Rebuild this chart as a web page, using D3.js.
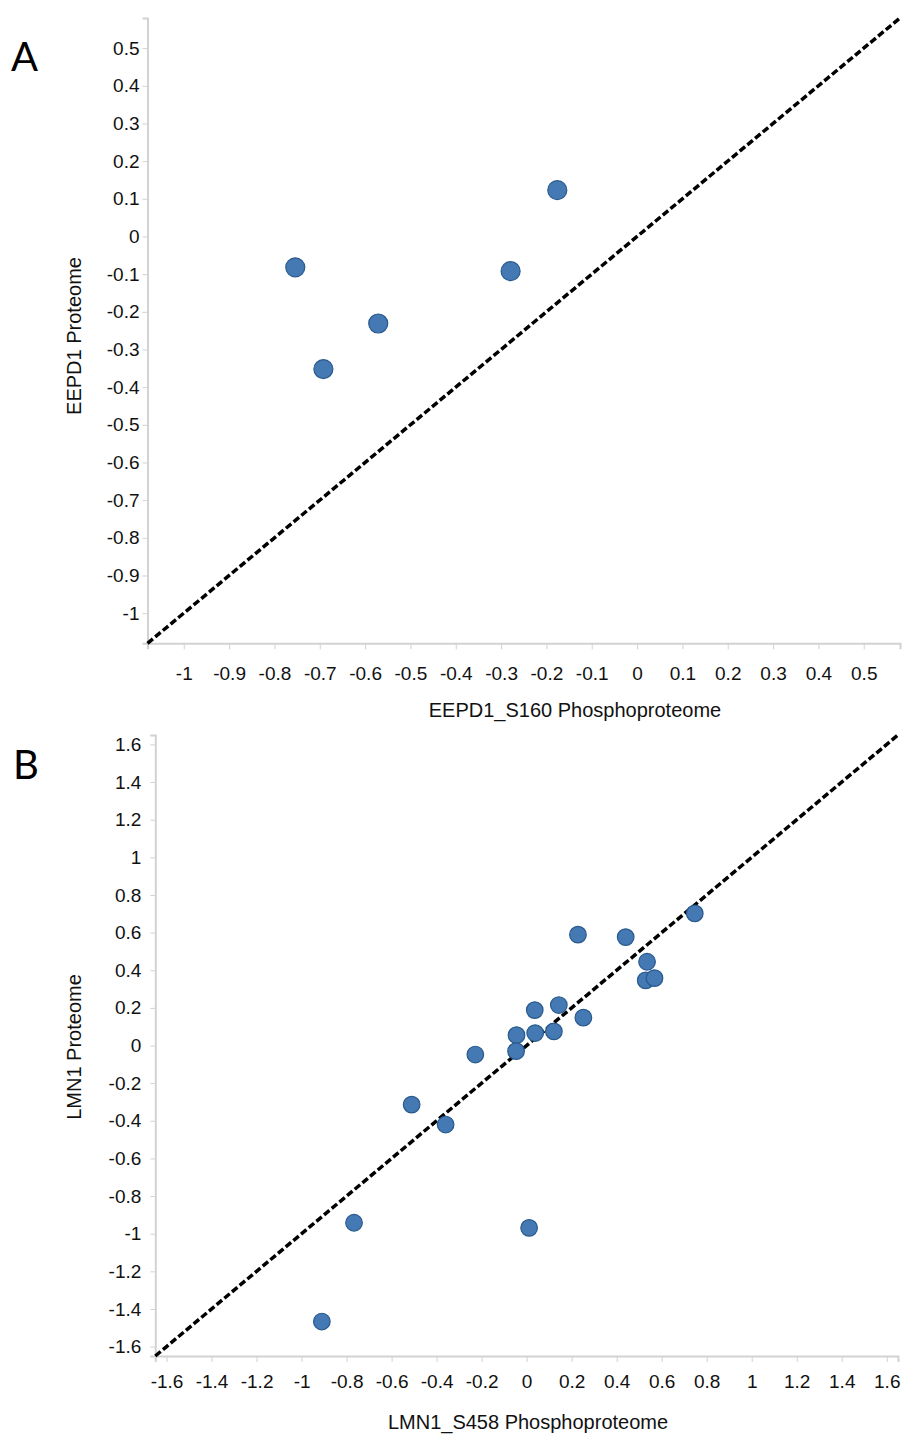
<!DOCTYPE html>
<html><head><meta charset="utf-8">
<script src="https://cdn.jsdelivr.net/npm/d3@7"></script>
<style>body{margin:0;background:#fff}svg{display:block}</style>
</head><body>
<svg id="chart" width="902" height="1437"></svg>
<script>
// Panel A data
const aX = [-0.754, -0.692, -0.571, -0.279, -0.176];
const aY = [-0.082, -0.352, -0.231, -0.092, 0.123];
const aTicks = [-1,-0.9,-0.8,-0.7,-0.6,-0.5,-0.4,-0.3,-0.2,-0.1,0,0.1,0.2,0.3,0.4,0.5];
const aTickLabels = ["-1","-0.9","-0.8","-0.7","-0.6","-0.5","-0.4","-0.3","-0.2","-0.1","0","0.1","0.2","0.3","0.4","0.5"];
const aDomain = [-1.08, 0.58];
// Panel B data
const bX = [0.747,0.228,0.440,0.535,0.529,0.568,0.036,0.143,0.252,-0.045,0.038,0.121,-0.047,-0.228,-0.511,-0.360,-0.767,0.011,-0.910];
const bY = [0.702,0.589,0.576,0.445,0.346,0.358,0.188,0.215,0.148,0.055,0.066,0.075,-0.030,-0.048,-0.314,-0.420,-0.942,-0.969,-1.467];
const bTicks = [-1.6,-1.4,-1.2,-1,-0.8,-0.6,-0.4,-0.2,0,0.2,0.4,0.6,0.8,1,1.2,1.4,1.6];
const bTickLabels = ["-1.6","-1.4","-1.2","-1","-0.8","-0.6","-0.4","-0.2","0","0.2","0.4","0.6","0.8","1","1.2","1.4","1.6"];
const bDomain = [-1.65, 1.65];

const svg = d3.select("#chart");
const FONT = "'Liberation Sans', Arial, sans-serif";

function panel(cfg){
  const x = d3.scaleLinear().domain(cfg.domain).range(cfg.xr);
  const y = d3.scaleLinear().domain(cfg.domain).range(cfg.yr);
  const g = svg.append("g");
  const xa = d3.axisBottom(x).tickValues(cfg.ticks).tickFormat((d,i)=>cfg.labels[i]).tickSizeOuter(0).tickSize(6).tickPadding(cfg.xpad);
  const ya = d3.axisLeft(y).tickValues(cfg.ticks).tickFormat((d,i)=>cfg.labels[i]).tickSizeOuter(0).tickSize(cfg.ytick).tickPadding(cfg.ypad);
  const gx = g.append("g").attr("transform",`translate(0,${cfg.yr[0]})`).call(xa);
  const gy = g.append("g").attr("transform",`translate(${cfg.xr[0]},0)`).call(ya);
  [gx,gy].forEach(a=>{
    a.select(".domain").attr("stroke","#d2d2d2").attr("stroke-width",2);
    a.selectAll(".tick line").attr("stroke","#d2d2d2").attr("stroke-width",1);
    a.selectAll(".tick text").attr("fill","#111").style("font-family",FONT).style("font-size","19px");
  });
  g.append("line")
    .attr("x1",x(cfg.domain[0])).attr("y1",y(cfg.domain[0]))
    .attr("x2",x(cfg.domain[1])).attr("y2",y(cfg.domain[1]))
    .attr("stroke","#000").attr("stroke-width",3.5).attr("stroke-dasharray","7,3");
  g.selectAll("circle.pt").data(cfg.xs.map((v,i)=>[v,cfg.ys[i]])).join("circle")
    .attr("class","pt")
    .attr("cx",d=>x(d[0])).attr("cy",d=>y(d[1])).attr("r",cfg.r)
    .attr("fill","#4479b4").attr("stroke","#2a5a8c").attr("stroke-width",1.2);
  g.append("text").attr("x",cfg.xtitle[0]).attr("y",cfg.xtitle[1]).attr("text-anchor","middle")
    .style("font-family",FONT).style("font-size","20px").attr("fill","#111").text(cfg.xlab);
  g.append("text").attr("transform",`translate(${cfg.ytitle[0]},${cfg.ytitle[1]}) rotate(-90)`).attr("text-anchor","middle")
    .style("font-family",FONT).style("font-size","20px").attr("fill","#111").text(cfg.ylab);
  g.append("text").attr("x",cfg.letter[0]).attr("y",cfg.letter[1])
    .style("font-family","Lato, 'Open Sans', sans-serif").style("font-size","40px").attr("fill","#000").text(cfg.letterText);
}

panel({domain:aDomain, xr:[147.5,900], yr:[643.3,18], ticks:aTicks, labels:aTickLabels,
  xs:aX, ys:aY, r:9.5, xpad:17, ytick:5, ypad:3,
  xtitle:[575,717], ytitle:[81,336], xlab:"EEPD1_S160 Phosphoproteome", ylab:"EEPD1 Proteome",
  letter:[11,71], letterText:"A"});
panel({domain:bDomain, xr:[155.3,898], yr:[1356,735], ticks:bTicks, labels:bTickLabels,
  xs:bX, ys:bY, r:8.3, xpad:13, ytick:5, ypad:9,
  xtitle:[528,1429], ytitle:[81,1047], xlab:"LMN1_S458 Phosphoproteome", ylab:"LMN1 Proteome",
  letter:[13,779], letterText:"B"});
</script>
</body></html>
